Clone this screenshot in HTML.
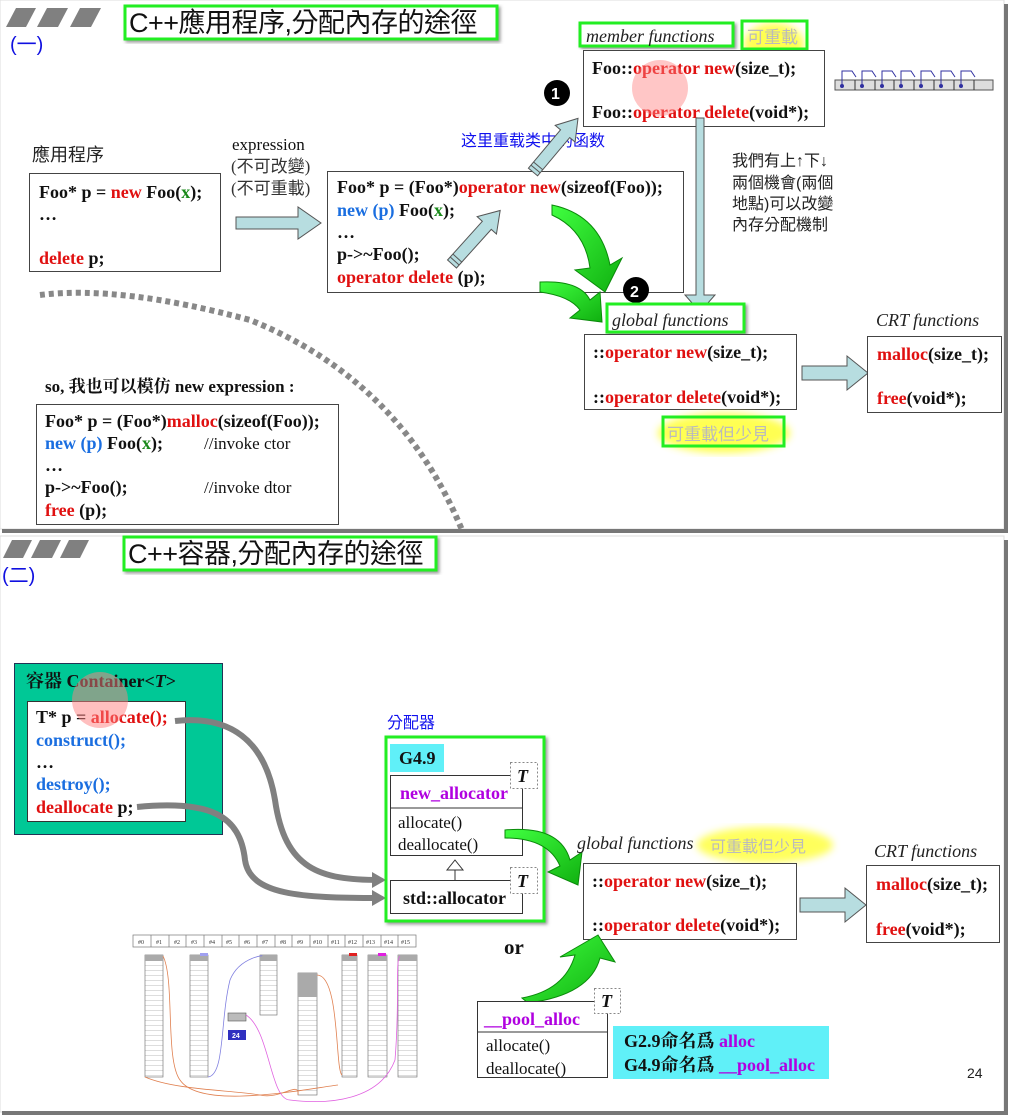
<!DOCTYPE html>
<html><head><meta charset="utf-8"><style>
html,body{margin:0;padding:0;background:#fff;}
svg{display:block}
.c{font-family:"Liberation Serif","Noto Serif CJK SC",serif;font-weight:bold;font-size:18px;fill:#111}
.r{fill:#e01010}.b{fill:#1a6ee0}.g{fill:#1a8a1a}.p{fill:#b000e0}
.s{font-family:"Liberation Sans","Noto Sans CJK TC",sans-serif;fill:#222}
.i{font-family:"Liberation Serif",serif;font-style:italic;font-size:18px;fill:#222}
.n{font-family:"Liberation Serif","Noto Sans CJK TC",serif;font-size:17px;fill:#111}
</style></head><body>
<svg width="1010" height="1119" viewBox="0 0 1010 1119" xmlns="http://www.w3.org/2000/svg">
<defs>
<filter id="sh" x="-5%" y="-5%" width="110%" height="120%"><feDropShadow dx="2" dy="2" stdDeviation="1.5" flood-color="#555" flood-opacity="0.6"/></filter>
<filter id="bl"><feGaussianBlur stdDeviation="4"/></filter>
<linearGradient id="gg" x1="0" y1="0" x2="1" y2="1"><stop offset="0" stop-color="#40ff40"/><stop offset="1" stop-color="#10b010"/></linearGradient>
<pattern id="rows" width="20" height="5" patternUnits="userSpaceOnUse"><rect width="20" height="5" fill="#fff"/><line x1="0" y1="0" x2="20" y2="0" stroke="#777" stroke-width="0.6"/></pattern>
</defs>
<rect x="0" y="0" width="1004" height="529" fill="#fff" stroke="#ddd" stroke-width="1"/>
<rect x="1004" y="4" width="4" height="528" fill="#777"/>
<rect x="2" y="529" width="1006" height="4" fill="#777"/>
<rect x="0" y="536" width="1004" height="576" fill="#fff" stroke="#ddd"/>
<rect x="1004" y="540" width="4" height="575" fill="#777"/>
<rect x="2" y="1111" width="1006" height="4" fill="#777"/>

<!-- ===== Slide 1 ===== -->
<g fill="#808080"><polygon points="6,27 16,8 36,8 26,27"/><polygon points="37,27 47,8 68,8 58,27"/><polygon points="70,27 80,8 101,8 91,27"/></g>
<text x="10" y="51" class="s" style="font-size:20px;fill:#1010e0">(一)</text>
<rect x="125" y="6" width="372" height="33" fill="#fff" stroke="#22ee22" stroke-width="3" filter="url(#sh)"/>
<text x="129" y="32" class="s" style="font-size:27px;fill:#111;letter-spacing:-0.5px">C++應用程序,分配內存的途徑</text>

<text x="32" y="161" class="s" style="font-size:18px">應用程序</text>
<rect x="29.5" y="173.5" width="191" height="98" fill="#fff" stroke="#444"/>
<text x="39" y="198" class="c">Foo* p = <tspan class="r">new</tspan> Foo(<tspan class="g">x</tspan>);</text>
<text x="39" y="220" class="c">…</text>
<text x="39" y="264" class="c"><tspan class="r">delete</tspan> p;</text>

<text x="232" y="150" class="n">expression</text>
<text x="231" y="172" class="n" style="fill:#333">(不可改變)</text>
<text x="231" y="194" class="n" style="fill:#333">(不可重載)</text>
<polygon points="236,217 298,217 298,207 321,223 298,239 298,229 236,229" fill="#b7dde0" stroke="#555"/>

<rect x="327.5" y="171.5" width="356" height="121" fill="#fff" stroke="#444"/>
<text x="337" y="193" class="c">Foo* p = (Foo*)<tspan class="r">operator new</tspan>(sizeof(Foo));</text>
<text x="337" y="216" class="c"><tspan class="b">new (p)</tspan> Foo(<tspan class="g">x</tspan>);</text>
<text x="337" y="238" class="c">…</text>
<text x="337" y="260" class="c">p-&gt;~Foo();</text>
<text x="337" y="283" class="c"><tspan class="r">operator delete</tspan> (p);</text>

<text x="461" y="146" style="font-family:'Noto Sans CJK SC',sans-serif;font-size:16px;fill:#1010ee">这里重载类中的函数</text>
<g transform="translate(452,264) rotate(-48)"><polygon points="0,-6 52,-6 52,-13 72,0 52,13 52,6 0,6" fill="#b7dde0" stroke="#555"/><line x1="4" y1="-6" x2="4" y2="6" stroke="#555"/><line x1="8" y1="-6" x2="8" y2="6" stroke="#555"/></g>
<g transform="translate(533,172) rotate(-50)"><polygon points="0,-6 50,-6 50,-13 70,0 50,13 50,6 0,6" fill="#b7dde0" stroke="#555"/><line x1="4" y1="-6" x2="4" y2="6" stroke="#555"/><line x1="8" y1="-6" x2="8" y2="6" stroke="#555"/></g>
<circle cx="557" cy="93" r="13" fill="#000"/><text x="551" y="99" class="s" style="font-size:16px;fill:#fff;font-weight:bold">1</text>
<circle cx="636" cy="290" r="13" fill="#000"/><text x="630" y="297" class="s" style="font-size:16px;fill:#fff;font-weight:bold">2</text>

<ellipse cx="774" cy="45" rx="30" ry="22" fill="#ffff40" filter="url(#bl)" opacity="0.9"/>
<rect x="580" y="23" width="153" height="23" fill="#fff" stroke="#22ee22" stroke-width="3" filter="url(#sh)"/>
<text x="586" y="42" class="i">member functions</text>
<rect x="742" y="21" width="65" height="28" fill="none" stroke="#22ee22" stroke-width="3"/>
<text x="747" y="43" class="s" style="font-size:17px;fill:#bbb">可重載</text>
<rect x="583.5" y="50.5" width="241" height="76" fill="#fff" stroke="#444"/>
<text x="592" y="74" class="c">Foo::<tspan class="r">operator new</tspan>(size_t);</text>
<text x="592" y="118" class="c">Foo::<tspan class="r">operator delete</tspan>(void*);</text>
<circle cx="660" cy="88" r="28" fill="#ff8080" opacity="0.45"/>
<rect x="835" y="80" width="158" height="10" fill="#ddd" stroke="#555"/>
<g stroke="#333" fill="none">
<line x1="855" y1="80" x2="855" y2="90"/><line x1="875" y1="80" x2="875" y2="90"/><line x1="894" y1="80" x2="894" y2="90"/><line x1="914" y1="80" x2="914" y2="90"/><line x1="934" y1="80" x2="934" y2="90"/><line x1="954" y1="80" x2="954" y2="90"/><line x1="974" y1="80" x2="974" y2="90"/>
</g>
<g stroke="#3030a0" fill="none">
<path d="M842,86V71h10l4,6M862,86V71h10l4,6M882,86V71h10l4,6M901,86V71h10l4,6M921,86V71h10l4,6M941,86V71h10l4,6M961,86V71h10l4,6"/>
</g>
<g fill="#3030a0"><circle cx="842" cy="86" r="2"/><circle cx="862" cy="86" r="2"/><circle cx="882" cy="86" r="2"/><circle cx="901" cy="86" r="2"/><circle cx="921" cy="86" r="2"/><circle cx="941" cy="86" r="2"/><circle cx="961" cy="86" r="2"/></g>

<polygon points="696,118 704,118 704,295 715,295 700,312 685,295 696,295" fill="#b7dde0" stroke="#555"/>
<text x="732" y="166" class="s" style="font-size:16px">我們有上↑下↓</text>
<text x="732" y="188" class="s" style="font-size:16px">兩個機會(兩個</text>
<text x="732" y="209" class="s" style="font-size:16px">地點)可以改變</text>
<text x="732" y="230" class="s" style="font-size:16px">內存分配機制</text>

<path d="M552,205 Q600,215 610,265 L622,258 L605,292 L575,270 L590,268 Q585,230 552,215Z" fill="url(#gg)" stroke="#0a8a0a"/>
<path d="M540,282 Q580,280 590,300 L600,292 L602,322 L570,318 L580,310 Q570,296 540,292Z" fill="url(#gg)" stroke="#0a8a0a"/>

<rect x="607" y="304" width="137" height="28" fill="#fff" stroke="#22ee22" stroke-width="3" filter="url(#sh)"/>
<text x="612" y="326" class="i">global functions</text>
<rect x="584.5" y="334.5" width="212" height="75" fill="#fff" stroke="#444"/>
<text x="593" y="358" class="c">::<tspan class="r">operator new</tspan>(size_t);</text>
<text x="593" y="403" class="c">::<tspan class="r">operator delete</tspan>(void*);</text>
<polygon points="802,366 847,366 847,356 868,373 847,390 847,380 802,380" fill="#b7dde0" stroke="#555"/>
<text x="876" y="326" class="i">CRT functions</text>
<rect x="867.5" y="336.5" width="134" height="76" fill="#fff" stroke="#444"/>
<text x="877" y="360" class="c"><tspan class="r">malloc</tspan>(size_t);</text>
<text x="877" y="404" class="c"><tspan class="r">free</tspan>(void*);</text>
<ellipse cx="724" cy="433" rx="66" ry="20" fill="#ffff40" filter="url(#bl)" opacity="0.9"/>
<rect x="663" y="417" width="121" height="29" fill="none" stroke="#22ee22" stroke-width="3"/>
<text x="667" y="440" class="s" style="font-size:17px;fill:#bbb">可重載但少見</text>

<path d="M40,295 Q120,285 250,320 Q400,380 462,530" fill="none" stroke="#888" stroke-width="6" stroke-dasharray="5,4"/>
<text x="45" y="392" class="c" style="font-size:17px">so, 我也可以模仿 new expression :</text>
<rect x="36.5" y="404.5" width="302" height="120" fill="#fff" stroke="#444"/>
<text x="45" y="427" class="c">Foo* p = (Foo*)<tspan class="r">malloc</tspan>(sizeof(Foo));</text>
<text x="45" y="449" class="c"><tspan class="b">new (p)</tspan> Foo(<tspan class="g">x</tspan>);</text>
<text x="204" y="449" class="n">//invoke ctor</text>
<text x="45" y="471" class="c">…</text>
<text x="45" y="493" class="c">p-&gt;~Foo();</text>
<text x="204" y="493" class="n">//invoke dtor</text>
<text x="45" y="516" class="c"><tspan class="r">free</tspan> (p);</text>

<!-- ===== Slide 2 ===== -->
<g fill="#808080"><polygon points="3,558 12,540 32,540 23,558"/><polygon points="31,558 40,540 61,540 52,558"/><polygon points="60,558 69,540 89,540 80,558"/></g>
<text x="2" y="582" class="s" style="font-size:20px;fill:#1010e0">(二)</text>
<rect x="124" y="537" width="312" height="33" fill="#fff" stroke="#22ee22" stroke-width="3" filter="url(#sh)"/>
<text x="128" y="563" class="s" style="font-size:27px;fill:#111;letter-spacing:-0.5px">C++容器,分配內存的途徑</text>

<rect x="14.5" y="663.5" width="208" height="171" fill="#00c896" stroke="#235"/>
<text x="26" y="687" class="c">容器 Container&lt;<tspan font-style="italic">T</tspan>&gt;</text>
<rect x="27.5" y="701.5" width="158" height="120" fill="#fff" stroke="#333"/>
<text x="36" y="723" class="c">T* p = <tspan class="r">allocate();</tspan></text>
<text x="36" y="746" class="c b">construct();</text>
<text x="36" y="768" class="c">…</text>
<text x="36" y="790" class="c b">destroy();</text>
<text x="36" y="813" class="c"><tspan class="r">deallocate</tspan> p;</text>
<circle cx="100" cy="700" r="28" fill="#ff8080" opacity="0.5"/>
<path d="M175,721 C230,715 265,740 275,800 C285,870 320,880 380,880" fill="none" stroke="#808080" stroke-width="6"/>
<path d="M137,807 C210,800 240,815 245,860 C250,895 300,898 380,898" fill="none" stroke="#808080" stroke-width="6"/>
<polygon points="372,872 386,880 372,888" fill="#808080"/><polygon points="372,890 386,898 372,906" fill="#808080"/>

<text x="387" y="728" class="s" style="font-size:16px;fill:#1010ee">分配器</text>
<rect x="386" y="737" width="158" height="184" fill="#fff" stroke="#22ee22" stroke-width="3" filter="url(#sh)"/>
<rect x="390" y="744" width="54" height="28" fill="#60f0f8"/>
<text x="399" y="764" class="c">G4.9</text>
<rect x="390.5" y="775.5" width="132" height="80" fill="#fff" stroke="#333"/>
<line x1="390" y1="808" x2="522" y2="808" stroke="#333"/>
<text x="400" y="799" class="c p">new_allocator</text>
<text x="398" y="828" class="n">allocate()</text>
<text x="398" y="850" class="n">deallocate()</text>
<rect x="510.5" y="762.5" width="27" height="26" fill="#fff" stroke="#888" stroke-dasharray="2,2"/>
<text x="517" y="782" class="c" style="font-style:italic">T</text>
<line x1="455" y1="870" x2="455" y2="880" stroke="#333"/>
<polygon points="447,870 463,870 455,860" fill="#fff" stroke="#333"/>
<rect x="390.5" y="880.5" width="132" height="33" fill="#fff" stroke="#333"/>
<text x="403" y="904" class="c">std::allocator</text>
<rect x="510.5" y="867.5" width="27" height="26" fill="#fff" stroke="#888" stroke-dasharray="2,2"/>
<text x="517" y="887" class="c" style="font-style:italic">T</text>

<path d="M505,830 Q560,825 570,860 L582,852 L578,885 L548,872 L560,866 Q548,838 505,838Z" fill="url(#gg)" stroke="#0a8a0a"/>
<ellipse cx="765" cy="845" rx="68" ry="18" fill="#ffff40" filter="url(#bl)" opacity="0.85"/>
<text x="577" y="849" class="i">global functions</text>
<text x="710" y="852" class="s" style="font-size:16px;fill:#bbb">可重載但少見</text>
<rect x="583.5" y="863.5" width="213" height="76" fill="#fff" stroke="#444"/>
<text x="592" y="887" class="c">::<tspan class="r">operator new</tspan>(size_t);</text>
<text x="592" y="931" class="c">::<tspan class="r">operator delete</tspan>(void*);</text>
<polygon points="800,898 845,898 845,888 866,905 845,922 845,912 800,912" fill="#b7dde0" stroke="#555"/>
<text x="874" y="857" class="i">CRT functions</text>
<rect x="866.5" y="865.5" width="133" height="77" fill="#fff" stroke="#444"/>
<text x="876" y="890" class="c"><tspan class="r">malloc</tspan>(size_t);</text>
<text x="876" y="935" class="c"><tspan class="r">free</tspan>(void*);</text>

<text x="504" y="954" class="c" style="font-size:21px">or</text>
<path d="M522,998 Q565,990 575,955 L560,957 L598,935 L615,962 L600,958 Q590,995 528,1003Z" fill="url(#gg)" stroke="#0a8a0a"/>
<rect x="477.5" y="1001.5" width="130" height="76" fill="#fff" stroke="#333"/>
<line x1="477" y1="1032" x2="608" y2="1032" stroke="#333"/>
<text x="484" y="1025" class="c p">__pool_alloc</text>
<text x="486" y="1051" class="n">allocate()</text>
<text x="486" y="1074" class="n">deallocate()</text>
<rect x="594.5" y="988.5" width="26" height="25" fill="#fff" stroke="#888" stroke-dasharray="2,2"/>
<text x="601" y="1007" class="c" style="font-style:italic">T</text>
<rect x="613" y="1026" width="216" height="53" fill="#60f0f8"/>
<text x="624" y="1047" class="c">G2.9命名爲 <tspan class="p">alloc</tspan></text>
<text x="624" y="1071" class="c">G4.9命名爲 <tspan class="p">__pool_alloc</tspan></text>
<text x="967" y="1078" class="s" style="font-size:14px">24</text>

<g stroke="#777" stroke-width="0.7" fill="none">
<rect x="133" y="935" width="283" height="12" fill="#fff"/>
<path d="M151,935v12M169,935v12M186,935v12M204,935v12M222,935v12M239,935v12M257,935v12M275,935v12M292,935v12M310,935v12M328,935v12M345,935v12M363,935v12M381,935v12M398,935v12"/>
</g>
<g font-family="Liberation Serif,serif" font-size="6" fill="#333">
<text x="138" y="944">#0</text><text x="156" y="944">#1</text><text x="174" y="944">#2</text><text x="191" y="944">#3</text><text x="209" y="944">#4</text><text x="226" y="944">#5</text><text x="244" y="944">#6</text><text x="262" y="944">#7</text><text x="280" y="944">#8</text><text x="297" y="944">#9</text><text x="313" y="944">#10</text><text x="331" y="944">#11</text><text x="348" y="944">#12</text><text x="366" y="944">#13</text><text x="384" y="944">#14</text><text x="401" y="944">#15</text>
</g>
<g stroke="#666" stroke-width="0.6" fill="url(#rows)">
<rect x="145" y="955" width="18" height="122"/>
<rect x="190" y="955" width="18" height="122"/>
<rect x="260" y="955" width="17" height="60"/>
<rect x="298" y="973" width="19" height="122"/>
<rect x="342" y="955" width="15" height="122"/>
<rect x="368" y="955" width="19" height="122"/>
<rect x="398" y="955" width="19" height="122"/>
</g>
<g fill="#aaa"><rect x="145" y="955" width="18" height="6"/><rect x="190" y="955" width="18" height="6"/><rect x="260" y="955" width="17" height="6"/><rect x="298" y="973" width="19" height="24"/><rect x="342" y="955" width="15" height="6"/><rect x="368" y="955" width="19" height="6"/><rect x="398" y="955" width="19" height="6"/></g>
<rect x="349" y="953" width="8" height="3" fill="#e02020"/><rect x="378" y="953" width="8" height="3" fill="#e020e0"/><rect x="200" y="953" width="8" height="3" fill="#a0a0f0"/>
<rect x="228" y="1013" width="18" height="8" fill="#bbb" stroke="#555" stroke-width="0.6"/>
<rect x="228" y="1030" width="18" height="10" fill="#3030c0"/><text x="232" y="1038" font-family="Liberation Sans,sans-serif" font-size="7" font-weight="bold" fill="#fff">24</text>
<g fill="none" stroke-width="0.8">
<path d="M163,956 C175,980 165,1060 180,1080 C200,1110 300,1090 338,1085" stroke="#e08050"/>
<path d="M145,1077 C175,1090 230,1090 260,1095 C280,1100 300,1080 298,1095" stroke="#e08050"/>
<path d="M208,1077 C225,1075 220,1020 230,980 C240,955 270,955 260,956" stroke="#8080e0"/>
<path d="M246,1015 C270,1030 270,1100 290,1100 C330,1105 380,1100 395,1060 C400,1000 395,960 400,956" stroke="#e060e0"/>
<path d="M317,975 C340,975 335,1070 342,1075" stroke="#e08050"/>
</g>
</svg>
</body></html>
